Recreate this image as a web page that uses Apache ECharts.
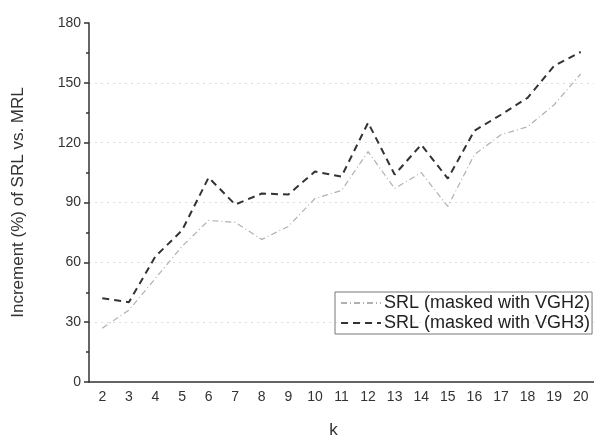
<!DOCTYPE html>
<html>
<head>
<meta charset="utf-8">
<script src="https://cdn.jsdelivr.net/npm/echarts@6/dist/echarts.min.js"></script>
<style>html,body{margin:0;padding:0;background:#fff}#c{width:594px;height:444px}</style>
</head>
<body>
<div id="c"></div>
<script>
var kValues = ['2','3','4','5','6','7','8','9','10','11','12','13','14','15','16','17','18','19','20'];
var vgh2 = [27, 36, 52, 68, 81, 80, 71.5, 78, 92, 96, 115.5, 97, 105, 88, 114, 124, 128, 139, 154.5];
var vgh3 = [42, 40, 63, 76, 102.5, 89, 94.5, 94, 105.5, 103, 130, 104, 119, 102, 126, 134, 142.5, 158.5, 165.5];
var yTicks = [0, 30, 60, 90, 120, 150, 180];

var chart = echarts.init(document.getElementById('c'));
var txt = '#333';
chart.setOption({
  animation: false,
  grid: {left: 89, right: -10, top: 23, bottom: 52, containLabel: false},
  legend: {
    left: 335, top: 292, orient: 'vertical',
    itemWidth: 40, itemHeight: 10, itemGap: 2,
    padding: [2, 2, 2, 5],
    borderColor: '#777', borderWidth: 1,
    itemStyle: {opacity: 0},
    textStyle: {fontFamily: 'Liberation Sans', fontSize: 18, color: '#222', padding: [0,0,0,-2]},
    data: ['SRL (masked with VGH2)', 'SRL (masked with VGH3)']
  },
  xAxis: {
    type: 'category', data: kValues, boundaryGap: true,
    name: 'k', nameLocation: 'middle', nameGap: 40,
    nameTextStyle: {fontFamily: 'Liberation Sans', fontSize: 17, color: txt, padding: [0, 16, 0, 0]},
    axisLine: {lineStyle: {color: '#333', width: 1.5}},
    axisTick: {alignWithLabel: true, length: 5, lineStyle: {color: '#333', width: 1.5}},
    axisLabel: {fontFamily: 'Liberation Sans', fontSize: 14, color: txt, margin: 8},
    splitLine: {show: false}
  },
  yAxis: {
    type: 'value', min: yTicks[0], max: yTicks[yTicks.length-1], interval: 30,
    name: 'Increment (%) of SRL vs. MRL', nameLocation: 'middle', nameGap: 62,
    nameTextStyle: {fontFamily: 'Liberation Sans', fontSize: 17, color: txt},
    axisLine: {show: true, lineStyle: {color: '#333', width: 1.5}},
    axisTick: {show: true, inside: false, length: 5, lineStyle: {color: '#333', width: 1.5}},
    minorTick: {show: true, splitNumber: 2, length: 3, lineStyle: {color: '#333', width: 1.5}},
    axisLabel: {fontFamily: 'Liberation Sans', fontSize: 14, color: txt, margin: 8},
    splitLine: {show: true, lineStyle: {color: '#ddd', type: [2, 4], width: 1},
      showMinLine: false, showMaxLine: false}
  },
  series: [
    {name: 'SRL (masked with VGH2)', type: 'line', data: vgh2, symbol: 'none',
     lineStyle: {color: '#b0b0b0', width: 1.2, type: [6, 3, 1, 3]}, itemStyle: {color: '#b0b0b0'}},
    {name: 'SRL (masked with VGH3)', type: 'line', data: vgh3, symbol: 'none',
     lineStyle: {color: '#333', width: 2, type: [7, 5]}, itemStyle: {color: '#333'}}
  ]
});
</script>
</body>
</html>
